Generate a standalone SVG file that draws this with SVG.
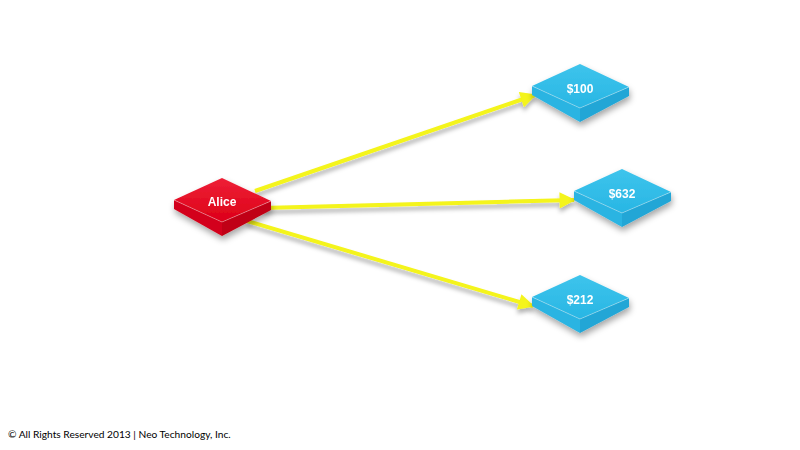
<svg xmlns="http://www.w3.org/2000/svg" width="800" height="450" viewBox="0 0 800 450">
<style>
.lbl{font-family:"Liberation Sans",Arial,sans-serif;font-weight:bold;font-size:12px;fill:#fff;text-anchor:middle}
.edge{stroke:#f4f41a;stroke-width:4;fill:none}
.foot{font-family:"Lato","Open Sans",sans-serif;font-size:10.2px;fill:#000}
.hl{fill:none;stroke:#fff;stroke-opacity:0.35;stroke-width:1}
.red .tp{fill:url(#rtop)} .red .sl{fill:#d3001a} .red .sr{fill:#c00012}
.blue .tp{fill:url(#btop)} .blue .sl{fill:#2ab4e2} .blue .sr{fill:#20a6d6}
</style>
<defs>
<filter id="sh" x="-30%" y="-30%" width="160%" height="180%">
<feDropShadow dx="1" dy="4" stdDeviation="3" flood-color="#000" flood-opacity="0.35"/>
</filter>
<filter id="lsh" x="-10%" y="-50%" width="120%" height="200%">
<feDropShadow dx="0" dy="4" stdDeviation="2" flood-color="#000" flood-opacity="0.3"/>
</filter>
<marker id="ah" viewBox="0 0 10 10" refX="9" refY="5" markerWidth="4.4" markerHeight="4" orient="auto" markerUnits="strokeWidth">
<path d="M0,0 L10,5 L0,10 Z" fill="#f4f41a"/>
</marker>
<linearGradient id="rtop" x1="0" y1="0" x2="0" y2="1">
<stop offset="0" stop-color="#ee2036"/><stop offset="1" stop-color="#dc0018"/>
</linearGradient>
<linearGradient id="btop" x1="0" y1="0" x2="0" y2="1">
<stop offset="0" stop-color="#3ec4ec"/><stop offset="1" stop-color="#28b6e4"/>
</linearGradient>
</defs>
<rect width="800" height="450" fill="#fff"/>
<g id="connectors" filter="url(#lsh)">
<line class="edge" x1="255" y1="191" x2="535" y2="95" marker-end="url(#ah)"/>
<line class="edge" x1="262" y1="208" x2="574" y2="200" marker-end="url(#ah)"/>
<line class="edge" x1="247" y1="221" x2="533" y2="306" marker-end="url(#ah)"/>
</g>
<g id="n100" class="blue" filter="url(#sh)">
<g transform="translate(580,64)">
<polygon class="sl" points="-48,22 0,44 0,58 -48,31"/>
<polygon class="sr" points="0,44 49,23 49,32 0,58"/>
<polygon class="tp" points="-48,22 0,0 49,23 0,44"/>
<polyline class="hl" points="-48,22 0,44 49,23"/>
</g>
<text class="lbl" x="580" y="93">$100</text>
</g>
<g id="n632" class="blue" filter="url(#sh)">
<g transform="translate(622,169)">
<polygon class="sl" points="-48,22 0,44 0,58 -48,31"/>
<polygon class="sr" points="0,44 49,23 49,32 0,58"/>
<polygon class="tp" points="-48,22 0,0 49,23 0,44"/>
<polyline class="hl" points="-48,22 0,44 49,23"/>
</g>
<text class="lbl" x="622" y="198">$632</text>
</g>
<g id="n212" class="blue" filter="url(#sh)">
<g transform="translate(580,275)">
<polygon class="sl" points="-48,22 0,44 0,58 -48,31"/>
<polygon class="sr" points="0,44 49,23 49,32 0,58"/>
<polygon class="tp" points="-48,22 0,0 49,23 0,44"/>
<polyline class="hl" points="-48,22 0,44 49,23"/>
</g>
<text class="lbl" x="580" y="304">$212</text>
</g>
<g id="alice" class="red" filter="url(#sh)">
<g transform="translate(222,178)">
<polygon class="sl" points="-48,22 0,44 0,58 -48,31"/>
<polygon class="sr" points="0,44 49,23 49,32 0,58"/>
<polygon class="tp" points="-48,22 0,0 49,23 0,44"/>
<polyline class="hl" points="-48,22 0,44 49,23"/>
</g>
<text class="lbl" x="222" y="206">Alice</text>
</g>
<text class="foot" x="8" y="438">© All Rights Reserved 2013 | Neo Technology, Inc.</text>
</svg>
